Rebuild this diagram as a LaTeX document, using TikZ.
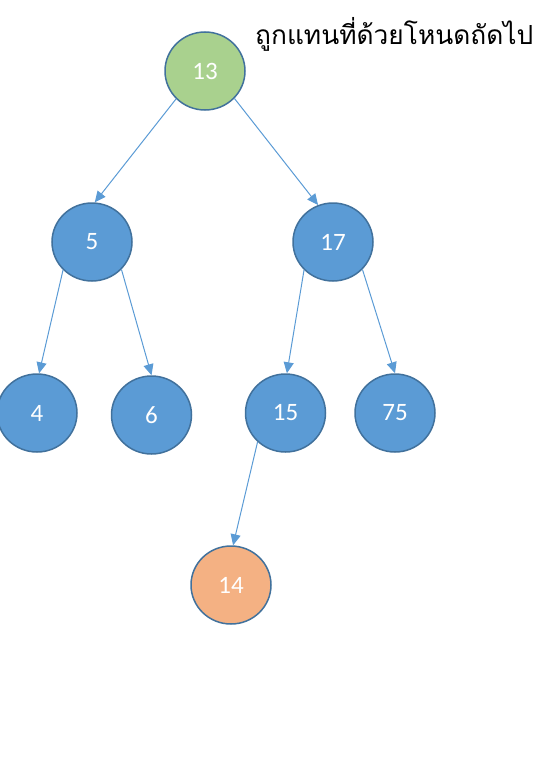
\documentclass[tikz,border=0pt]{standalone}
\usepackage{fontspec}
\setmainfont{Carlito}
\newfontfamily\thaifont[Script=Thai]{Loma}
\usetikzlibrary{shapes.geometric,arrows.meta}
\definecolor{nodeblue}{HTML}{5B9BD5}
\definecolor{nodeedge}{HTML}{41719C}
\definecolor{nodegreen}{HTML}{A9D18E}
\definecolor{nodeorange}{HTML}{F4B183}
\tikzset{
  tnode/.style={ellipse, draw=nodeedge, line width=1.5pt, fill=nodeblue,
    minimum width=80pt, minimum height=78pt, inner sep=0pt,
    text=white, font=\fontsize{25}{25}\selectfont},
  link/.style={draw=nodeblue, line width=1pt,
    -{Triangle[length=11pt,width=10pt]}}
}
\begin{document}
\begin{tikzpicture}[x=1pt,y=-1pt]
\useasboundingbox (0,0) rectangle (558,784);
\node[tnode, fill=nodegreen] (n13) at (205,71) {13};
\node[tnode] (n5) at (92,242) {5};
\node[tnode] (n17) at (333,242) {17};
\node[tnode] (n4) at (37,413) {4};
\node[tnode] (n6) at (151.5,415) {6};
\node[tnode] (n15) at (285.5,413) {15};
\node[tnode] (n75) at (395,413) {75};
\node[tnode, fill=nodeorange] (n14) at (231,585) {14};
\node[anchor=base west, inner sep=0pt, font=\thaifont\fontsize{26.3}{26.3}\selectfont] (title) at (255,45) {ถูกแทนที่ด้วยโหนดถัดไป};
\draw[link] (n13.224) -- (n5.86);
\draw[link] (n13.317) -- (n17.112);
\draw[link] (n5.224) -- (n4.87);
\draw[link] (n5.317) -- (n6.90);
\draw[link] (n17.224) -- (n15.88);
\draw[link] (n17.317) -- (n75.90);
\draw[link] (n15.226) -- (n14.87);
\end{tikzpicture}
\end{document}
